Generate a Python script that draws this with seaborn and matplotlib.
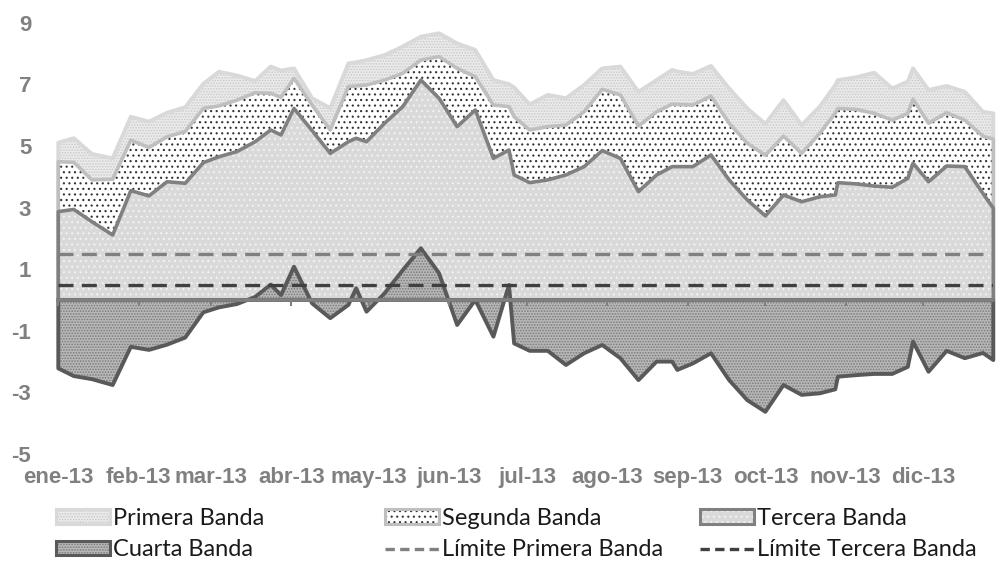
import matplotlib
matplotlib.use("Agg")
import matplotlib.pyplot as plt
import matplotlib.dates as mdates
from matplotlib.patches import Patch
from matplotlib.lines import Line2D
import pandas as pd
import seaborn as sns

# datos
fechas = ["2013-01-01", "2013-01-07", "2013-01-14", "2013-01-22", "2013-01-29",
          "2013-02-05", "2013-02-12", "2013-02-19", "2013-02-26",
          "2013-03-04", "2013-03-11", "2013-03-18", "2013-03-24", "2013-03-28",
          "2013-04-02", "2013-04-09", "2013-04-16", "2013-04-23", "2013-04-26", "2013-04-30",
          "2013-05-07", "2013-05-14", "2013-05-21", "2013-05-28",
          "2013-06-04", "2013-06-11", "2013-06-18", "2013-06-24", "2013-06-26",
          "2013-07-02", "2013-07-09", "2013-07-16", "2013-07-23", "2013-07-30",
          "2013-08-06", "2013-08-13", "2013-08-20", "2013-08-26", "2013-08-28",
          "2013-09-03", "2013-09-10", "2013-09-17", "2013-09-24",
          "2013-10-01", "2013-10-08", "2013-10-15", "2013-10-22", "2013-10-28", "2013-10-29",
          "2013-11-05", "2013-11-12", "2013-11-19", "2013-11-25", "2013-11-27",
          "2013-12-03", "2013-12-10", "2013-12-17", "2013-12-24", "2013-12-28"]

primera = [5.11, 5.25, 4.74, 4.60, 5.95, 5.79, 6.08, 6.26, 7.02, 7.41,
           7.29, 7.11, 7.58, 7.45, 7.52, 6.55, 6.23, 7.68, 7.72, 7.79,
           7.95, 8.23, 8.55, 8.66, 8.33, 8.12, 7.14, 7.01, 6.90, 6.35,
           6.66, 6.55, 6.98, 7.52, 7.58, 6.76, 7.14, 7.47, 7.42, 7.34,
           7.60, 6.87, 6.22, 5.72, 6.49, 5.68, 6.28, 6.98, 7.14, 7.23,
           7.38, 6.87, 7.09, 7.52, 6.82, 6.95, 6.76, 6.11, 6.06]

segunda = [4.49, 4.47, 3.90, 3.92, 5.19, 4.95, 5.30, 5.47, 6.22, 6.30,
           6.49, 6.73, 6.71, 6.58, 7.20, 6.33, 5.52, 6.93, 6.95, 6.98,
           7.14, 7.36, 7.79, 7.90, 7.52, 7.25, 6.33, 6.28, 5.95, 5.52,
           5.63, 5.68, 6.11, 6.84, 6.66, 5.65, 6.11, 6.36, 6.35, 6.33,
           6.62, 5.74, 5.09, 4.70, 5.32, 4.76, 5.41, 6.07, 6.22, 6.19,
           6.06, 5.84, 6.06, 6.52, 5.74, 6.08, 5.84, 5.32, 5.22]

tercera = [2.87, 2.94, 2.54, 2.11, 3.55, 3.38, 3.84, 3.79, 4.46, 4.65,
           4.82, 5.14, 5.52, 5.36, 6.22, 5.50, 4.76, 5.14, 5.25, 5.14,
           5.74, 6.28, 7.14, 6.55, 5.63, 6.17, 4.60, 4.87, 4.06, 3.81,
           3.90, 4.06, 4.33, 4.85, 4.60, 3.52, 4.06, 4.33, 4.33, 4.33,
           4.71, 3.90, 3.25, 2.73, 3.41, 3.19, 3.35, 3.41, 3.81, 3.77,
           3.70, 3.66, 3.95, 4.44, 3.84, 4.35, 4.33, 3.46, 2.98]

cuarta = [-2.22, -2.47, -2.57, -2.76, -1.52, -1.62, -1.45, -1.22, -0.40, -0.24,
          -0.13, 0.10, 0.50, 0.16, 1.08, -0.11, -0.59, -0.16, 0.38, -0.38,
          0.22, 0.97, 1.68, 0.87, -0.81, 0.00, -1.19, 0.49, -1.41, -1.65,
          -1.65, -2.11, -1.73, -1.46, -1.89, -2.60, -2.00, -2.00, -2.27, -2.06,
          -1.73, -2.60, -3.25, -3.63, -2.76, -3.08, -3.03, -2.90, -2.49, -2.44,
          -2.40, -2.40, -2.17, -1.35, -2.33, -1.65, -1.89, -1.72, -1.95]

limite_primera = 1.5
limite_tercera = 0.5

meses = ["2013-01-01", "2013-02-01", "2013-03-01", "2013-04-01", "2013-05-01", "2013-06-01",
         "2013-07-01", "2013-08-01", "2013-09-01", "2013-10-01", "2013-11-01", "2013-12-01"]
etiquetas_meses = ["ene-13", "feb-13", "mar-13", "abr-13", "may-13", "jun-13",
                   "jul-13", "ago-13", "sep-13", "oct-13", "nov-13", "dic-13"]

sns.set_style("white")
plt.rcParams["font.family"] = ["Liberation Sans", "DejaVu Sans"]
plt.rcParams["font.weight"] = "bold"
plt.rcParams["axes.unicode_minus"] = False
plt.rcParams["hatch.linewidth"] = 0.8

fig = plt.figure(figsize=(10, 5.63), dpi=100)
ax = fig.add_axes([0.0583, 0.1936, 0.935, 0.7659])

x = pd.to_datetime(fechas)

# (valores, fondo, color trama, trama, borde, grosor)
bandas = [
    (primera, "#ebebeb", "#c9c9c9", "......", "#d9d9d9", 2.8),
    (segunda, "#ffffff", "#333333", "...", "#bfbfbf", 2.6),
    (tercera, "#d9d9d9", "#f2f2f2", "...", "#808080", 2.6),
    (cuarta, "#b8b8b8", "#7a7a7a", "......", "#595959", 2.8),
]

for i, (valores, fondo, punto, trama, borde, grosor) in enumerate(bandas):
    ax.fill_between(x, 0, valores, facecolor=fondo, edgecolor=punto, hatch=trama,
                    linewidth=0, zorder=2 + i)
    ax.fill_between(x, 0, valores, facecolor="none", edgecolor=borde, linewidth=grosor,
                    zorder=2 + i, clip_on=False)

sns.lineplot(x=x, y=[limite_primera] * len(x), ax=ax, color="#808080", linewidth=2.4,
             linestyle=(0, (4.5, 2.5)), zorder=10)
sns.lineplot(x=x, y=[limite_tercera] * len(x), ax=ax, color="#404040", linewidth=2.4,
             linestyle=(0, (4.5, 2.5)), zorder=10)

ax.set_xlabel("")
ax.set_ylabel("")
ax.set_xlim(x[0], x[-1])
ax.set_ylim(-5, 9)
ax.set_yticks(range(-5, 10, 2))
ax.set_xticks(pd.to_datetime(meses))
ax.set_xticklabels(etiquetas_meses)
for s in ax.spines.values():
    s.set_visible(False)
ax.tick_params(axis="both", length=0, labelsize=16, labelcolor="#808080")
ax.tick_params(axis="y", pad=19.5)
ax.tick_params(axis="x", pad=9)

# eje en cero
eje0 = ax.secondary_xaxis(5 / 14)
eje0.set_zorder(20)
eje0.xaxis.set_major_locator(mdates.MonthLocator())
eje0.tick_params(axis="x", bottom=True, top=False, length=4, width=1.5, color="#808080",
                 labelbottom=False, labeltop=False, direction="out")
for nombre, s in eje0.spines.items():
    s.set_color("#808080")
    s.set_linewidth(2.6)

# leyenda en tres columnas
def relleno(fondo, punto, trama, borde):
    return (Patch(facecolor=fondo, edgecolor=punto, hatch=trama, linewidth=0),
            Patch(facecolor="none", edgecolor=borde, linewidth=2.2))

h = [relleno(b[1], b[2], b[3], b[4]) for b in bandas]
h_lim1 = Line2D([], [], color="#808080", linewidth=2.4, linestyle=(0, (2.8, 1.6)))
h_lim3 = Line2D([], [], color="#404040", linewidth=2.4, linestyle=(0, (2.8, 1.6)))

columnas = [
    ([h[0], h[3]], ["Primera Banda", "Cuarta Banda"], 0.056),
    ([h[1], h_lim1], ["Segunda Banda", "Límite Primera Banda"], 0.385),
    ([h[2], h_lim3], ["Tercera Banda", "Límite Tercera Banda"], 0.700),
]
for handles, labels, xpos in columnas:
    fig.legend(handles, labels, loc="upper left", bbox_to_anchor=(xpos, 0.098),
               frameon=False, borderpad=0, borderaxespad=0, handlelength=2.3,
               handleheight=0.55, handletextpad=0.1, labelspacing=0.45,
               prop={"family": "Lato", "size": 17, "weight": "normal"},
               labelcolor="#1a1a1a")

fig.savefig("out.png", dpi=100, facecolor="white")
